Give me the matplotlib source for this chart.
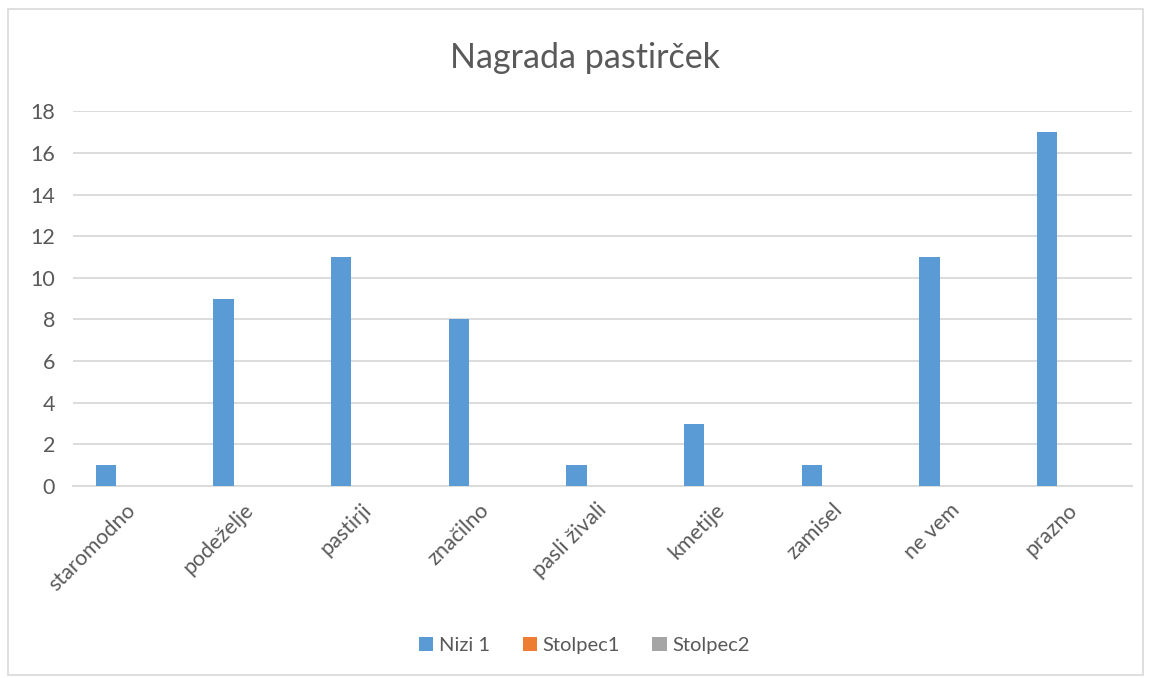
import numpy as np
import matplotlib
matplotlib.use("Agg")
import matplotlib.pyplot as plt
import matplotlib.transforms as mtransforms
from matplotlib.patches import Rectangle

plt.rcParams['font.family'] = ['Lato', 'DejaVu Sans']

# data
categories = ['staromodno', 'podeželje', 'pastirji', 'značilno', 'pasli živali',
              'kmetije', 'zamisel', 'ne vem', 'prazno']
nizi1 = [1, 9, 11, 8, 1, 3, 1, 11, 17]
stolpec1 = [0, 0, 0, 0, 0, 0, 0, 0, 0]
stolpec2 = [0, 0, 0, 0, 0, 0, 0, 0, 0]
series_names = ['Nizi 1', 'Stolpec1', 'Stolpec2']
colors = ['#5B9BD5', '#ED7D31', '#A5A5A5']

text_col = '#595959'
grid_col = '#D9D9D9'

fig = plt.figure(figsize=(11.51, 6.78), dpi=100)
ax = fig.add_axes([0.0634, 0.2832, 0.9201, 0.5527])

x = np.arange(len(categories))
w = 0.174
step = 0.221
for i, (vals, name, c) in enumerate(zip([nizi1, stolpec1, stolpec2], series_names, colors)):
    ax.bar(x + (i - 1) * step, vals, width=w, color=c, label=name, zorder=3)

ax.set_xlim(-0.5, len(categories) - 0.5)
ax.set_ylim(0, 18)
ax.set_yticks(range(0, 19, 2))
ax.yaxis.grid(True, color=grid_col, linewidth=1.3, zorder=0)
ax.set_axisbelow(True)
for s in ['top', 'right', 'left']:
    ax.spines[s].set_visible(False)
ax.spines['bottom'].set_color(grid_col)
ax.spines['bottom'].set_linewidth(1.3)
ax.tick_params(axis='both', length=0, colors=text_col, labelsize=15.5)
ax.tick_params(axis='y', pad=13)
ax.set_xticks(x)
ax.set_xticklabels(categories, rotation=45, ha='right', rotation_mode='anchor')
ax.tick_params(axis='x', pad=10)

# nudge category labels a little to the left, like the original
shift = mtransforms.ScaledTranslation(-6 / 100, 0, fig.dpi_scale_trans)
for lbl in ax.get_xticklabels():
    lbl.set_transform(lbl.get_transform() + shift)

fig.text(0.508, 0.915, 'Nagrada pastirček', ha='center', va='center',
         fontsize=24.5, color=text_col)

handles, labels = ax.get_legend_handles_labels()
leg = fig.legend(handles, labels, loc='center', bbox_to_anchor=(0.508, 0.048), ncol=3,
                 frameon=False, fontsize=14.5, handlelength=0.7, handleheight=0.7,
                 handletextpad=0.3, columnspacing=1.6)
for t in leg.get_texts():
    t.set_color(text_col)

fig.patches.append(Rectangle((0.007, 0.004), 0.986, 0.982, transform=fig.transFigure,
                             fill=False, edgecolor='#D9D9D9', linewidth=1.2))

fig.savefig('out.png', dpi=100)
